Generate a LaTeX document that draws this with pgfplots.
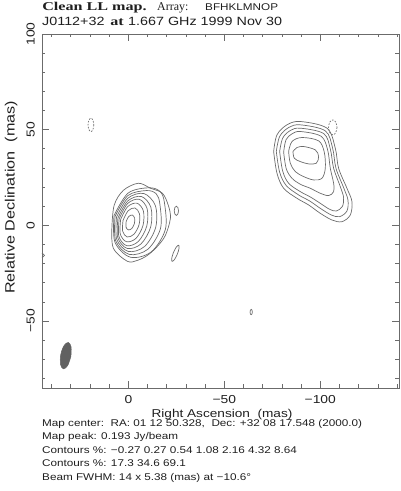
\documentclass[border=0pt]{standalone}
\usepackage{fontspec}
\setmainfont{Liberation Sans}[FakeStretch=1.2]
\newfontfamily\tserif{Liberation Serif}
\usepackage{pgfplots}
\pgfplotsset{compat=1.18}
\definecolor{axgray}{gray}{0.42}
\definecolor{cgray}{gray}{0.42}
\definecolor{txt}{gray}{0.12}
\definecolor{beamfill}{gray}{0.38}
\pgfplotsset{cont/.style={cgray, line width=0.7pt, smooth, tension=0.55},
  ncont/.style={cgray, line width=0.7pt, smooth, tension=0.55, dash pattern=on 1.6pt off 1.4pt}}
\begin{document}
\begin{tikzpicture}
\useasboundingbox (0bp,0bp) rectangle (401bp,491bp);
\begin{axis}[
  at={(42bp,103bp)}, anchor=south west,
  scale only axis, width=357bp, height=354bp,
  x dir=reverse, xmin=-141, xmax=45, ymin=-85, ymax=100,
  axis line style={axgray, line width=0.8pt},
  tick style={axgray, line width=0.7pt},
  tick align=inside, tick pos=both,
  major tick length=7bp, minor tick length=3.5bp,
  xtick={-100,-50,0}, xticklabels={−100,−50,0},
  ytick={-50,0,50,100}, yticklabels={−50,0,50,100},
  minor xtick={-140,-130,...,40},
  minor ytick={-80,-70,...,90},
  xticklabel style={font=\rmfamily\fontsize{11.6}{13}\selectfont, text=txt, anchor=north, inner sep=0pt},
  xticklabel shift=7bp,
  yticklabel style={font=\rmfamily\fontsize{11.6}{13}\selectfont, text=txt, rotate=90, anchor=south, inner sep=0pt},
  yticklabel shift=7bp,
]
% core component
\addplot[cont] coordinates {(8.6,-1.6) (7.4,10.5) (2.6,18.3) (-5.2,22) (-11.5,19.4) (-17.7,16.8) (-20.8,10.5) (-21.9,3.7) (-19.3,-5.2) (-15.1,-11) (-9.9,-15.7) (-4.7,-18.3) (0.5,-18.8) (7.8,-12) (8.6,-1.6)};
\addplot[cont] coordinates {(7.49,5.09) (0.13,16.86) (-10.76,19.64) (-16.5,17.7) (-18.80,11.79) (-19.29,-2.09) (-11.93,-13.86) (-1.04,-16.64) (7.00,-8.79) (7.49,5.09)};
\addplot[cont] coordinates {(6.93,4.67) (0.30,15.53) (-9.37,18.18) (-14.5,16.5) (-16.42,11.05) (-16.73,-1.67) (-10.10,-12.53) (-0.43,-15.18) (6.62,-8.05) (6.93,4.67)};
\addplot[cont] coordinates {(6.19,4.23) (0.33,14.13) (-8.06,16.63) (-14.07,10.27) (-14.19,-1.23) (-8.33,-11.13) (0.06,-13.63) (6.07,-7.27) (6.19,4.23)};
\addplot[cont] coordinates {(5.44,3.79) (0.36,12.72) (-6.74,15.08) (-11.71,9.48) (-11.64,-0.79) (-6.56,-9.72) (0.54,-12.08) (5.51,-6.48) (5.44,3.79)};
\addplot[cont] coordinates {(4.78,3.42) (0.38,11.43) (-5.65,13.63) (-9.77,8.72) (-9.58,-0.42) (-5.18,-8.43) (0.85,-10.63) (4.97,-5.72) (4.78,3.42)};
\addplot[cont] coordinates {(4.02,3.06) (0.41,9.74) (-4.50,11.59) (-7.82,7.53) (-7.62,-0.06) (-4.01,-6.74) (0.90,-8.59) (4.22,-4.53) (4.02,3.06)};
\addplot[cont] coordinates {(2.77,2.62) (0.11,7.64) (-3.43,9.07) (-5.78,6.06) (-5.57,0.38) (-2.91,-4.64) (0.63,-6.07) (2.98,-3.06) (2.77,2.62)};
\addplot[cont] coordinates {(1.13,2.07) (-0.23,4.65) (-2.04,5.38) (-3.24,3.84) (-3.13,0.93) (-1.77,-1.65) (0.04,-2.38) (1.24,-0.84) (1.13,2.07)};
% small features near core
\addplot[cont] coordinates {(-26.1,7.6) (-25.78,5.90) (-25,5.2) (-24.22,5.90) (-23.9,7.6) (-24.22,9.30) (-25,10) (-25.78,9.30) (-26.1,7.6)};
\addplot[cont] coordinates {(-23.48,-14.19) (-22.58,-17.28) (-22.8,-18.8) (-24.02,-17.86) (-25.52,-15.01) (-26.42,-11.92) (-26.2,-10.4) (-24.98,-11.34) (-23.48,-14.19)};
\addplot[cont] coordinates {(-64.6,-45.3) (-64.42,-46.29) (-64,-46.7) (-63.58,-46.29) (-63.4,-45.3) (-63.58,-44.31) (-64,-43.9) (-64.42,-44.31) (-64.6,-45.3)};
\addplot[cont] coordinates {(47,-14.3) (44.6,-14.8) (43.7,-15.7) (44.6,-16.6) (47,-17)};
% NW component
\addplot[cont] coordinates {(-75.69,38.57) (-77.43,47.29) (-82.64,52.53) (-89.58,54.27) (-103.47,50.78) (-107.81,40.31) (-109.54,29.84) (-113.88,19.37) (-116.49,12.39) (-115.62,5.41) (-111.28,1.92) (-106.07,2.80) (-100.00,6.29) (-93.92,10.65) (-87.84,14.14) (-80.90,19.37) (-77.43,27.23) (-75.69,38.57)};
\addplot[cont] coordinates {(-77.08,38.57) (-78.82,46.42) (-83.50,51.13) (-89.58,52.53) (-102.60,49.39) (-106.42,40.31) (-108.16,29.84) (-112.15,19.72) (-114.40,13.27) (-113.88,7.51) (-110.06,4.54) (-105.72,5.41) (-100.00,8.90) (-94.44,12.74) (-88.71,15.88) (-82.29,20.77) (-78.82,27.75) (-77.08,38.57)};
\addplot[cont] coordinates {(-78.82,38.57) (-80.38,45.55) (-84.37,49.56) (-89.58,50.78) (-101.73,47.99) (-105.20,39.97) (-106.94,29.84) (-110.41,20.25) (-112.15,14.49) (-111.45,9.78) (-108.33,7.51) (-104.86,8.38) (-100.00,11.52) (-94.79,14.84) (-89.58,17.63) (-83.50,21.99) (-80.38,28.45) (-78.82,38.57)};
\addplot[cont] coordinates {(-80.90,38.22) (-82.12,44.68) (-85.24,47.82) (-89.58,49.04) (-100.34,46.60) (-103.82,39.44) (-105.20,29.84) (-106.94,21.99) (-106.94,17.63) (-104.34,15.54) (-100.00,16.76) (-94.79,19.37) (-89.58,21.47) (-85.24,24.61) (-82.29,29.50) (-80.90,38.22)};
\addplot[cont] coordinates {(-83.50,38.57) (-85.24,43.80) (-90.45,45.90) (-99.13,44.15) (-102.08,38.22) (-102.60,29.84) (-100.86,24.61) (-96.52,23.74) (-91.32,25.48) (-86.98,28.10) (-84.37,32.46) (-83.50,38.57)};
\addplot[cont] coordinates {(-85.76,38.57) (-87.84,40.66) (-91.32,41.19) (-97.39,39.44) (-99.13,35.95) (-97.91,32.46) (-93.92,32.11) (-89.58,33.33) (-86.46,35.08) (-85.76,38.57)};
% negative contours
\addplot[ncont] coordinates {(18,52.5) (18.44,50.03) (19.5,49) (20.56,50.03) (21,52.5) (20.56,54.97) (19.5,56) (18.44,54.97) (18,52.5)};
\addplot[ncont] coordinates {(-108.7,51.2) (-108.06,48.44) (-106.5,47.3) (-104.94,48.44) (-104.3,51.2) (-104.94,53.96) (-106.5,55.1) (-108.06,53.96) (-108.7,51.2)};
% beam
\addplot[fill=beamfill, draw=beamfill, line width=0.5pt, smooth, tension=0.55] coordinates {(29.96,-68.6) (29.82,-63.58) (31.3,-61.2) (33.56,-62.88) (35.24,-67.6) (35.38,-72.62) (33.89,-74.98) (31.64,-73.32) (29.96,-68.6)};
\end{axis}
% axis labels
\node[anchor=base, inner sep=0pt, text=txt, font=\rmfamily\fontsize{11.4}{13}\selectfont] at (222bp,73bp) {Right Ascension\ \ (mas)};
\node[anchor=base, inner sep=0pt, text=txt, rotate=90, font=\rmfamily\fontsize{13.5}{15}\selectfont] at (14.5bp,293.5bp) {Relative Declination\ \ (mas)};
% titles
\node[anchor=base west, inner sep=0pt, text=txt, xscale=1.35, font=\tserif\bfseries\fontsize{12}{14}\selectfont] at (42bp,480.5bp) {Clean LL map.};
\node[anchor=base west, inner sep=0pt, text=txt, font=\tserif\fontsize{12}{14}\selectfont] at (157bp,480.5bp) {Array:};
\node[anchor=base west, inner sep=0pt, text=txt, font=\fontsize{9.8}{12}\selectfont] at (205bp,480.5bp) {BFHKLMNOP};
\node[anchor=base west, inner sep=0pt, text=txt, font=\fontsize{12}{14}\selectfont] at (42bp,465bp) {J0112+32};
\node[anchor=base west, inner sep=0pt, text=txt, xscale=1.35, font=\tserif\bfseries\fontsize{12}{14}\selectfont] at (110bp,465bp) {at};
\node[anchor=base west, inner sep=0pt, text=txt, font=\fontsize{12}{14}\selectfont] at (128bp,465bp) {1.667 GHz 1999 Nov 30};
% bottom text
\begin{scope}[every node/.style={anchor=base west, inner sep=0pt, text=txt, font=\fontsize{9.8}{12}\selectfont}]
\node at (42bp,64.3bp) {Map center:\ \ RA: 01 12 50.328,\ \ Dec: +32 08 17.548 (2000.0)};
\node at (42bp,51bp) {Map peak: 0.193 Jy/beam};
\node at (42bp,37.7bp) {Contours \%: −0.27 0.27 0.54 1.08 2.16 4.32 8.64};
\node at (42bp,24.3bp) {Contours \%: 17.3 34.6 69.1};
\node at (42bp,11bp) {Beam FWHM: 14 x 5.38 (mas) at −10.6°};
\end{scope}
\end{tikzpicture}
\end{document}
